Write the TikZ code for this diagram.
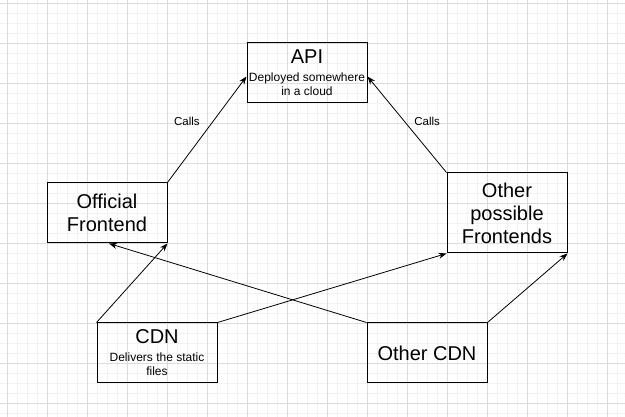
\documentclass[tikz,border=0pt]{standalone}
\usepackage{fontspec}
\setmainfont{Liberation Sans}
\usetikzlibrary{arrows.meta}
\newcommand\subtxt[1]{{\fontsize{12}{14}\selectfont #1}}
\begin{document}
\begin{tikzpicture}[x=1pt,y=-1pt,
  box/.style={draw, line width=1pt, minimum width=120pt, minimum height=60pt, inner sep=0pt, align=center, font=\fontsize{20}{23}\selectfont},
  conn/.style={line width=0.8pt, -{Stealth[length=8pt,width=6pt]}},
  lbl/.style={font=\fontsize{11.5}{13}\selectfont, inner sep=0pt},
  minorgrid/.style={draw=black!5, line width=0.8pt},
  majorgrid/.style={draw=black!14, line width=0.8pt}]
\fill[white] (0,0) rectangle (625,417);
\useasboundingbox (0,0) rectangle (625,417);
\foreach \x in {7,17,...,627} \draw[minorgrid] (\x,0) -- (\x,417);
\foreach \y in {3,13,...,413} \draw[minorgrid] (0,\y) -- (625,\y);
\foreach \x in {7,47,...,607} \draw[majorgrid] (\x,0) -- (\x,417);
\foreach \y in {3,43,...,403} \draw[majorgrid] (0,\y) -- (625,\y);

\node[box] (api) at (307,73) {API\\[-5pt]\subtxt{Deployed somewhere}\\[-9pt]\subtxt{in a cloud}};
\node[box] (off) at (107,213) {Official\\Frontend};
\node[box, minimum height=80pt] (other) at (507,213) {Other\\possible\\Frontends};
\node[box] (cdn) at (157,353) {CDN\\[-5pt]\subtxt{Delivers the static}\\[-9pt]\subtxt{files}};
\node[box] (ocdn) at (427,353) {Other CDN};

\draw[conn] (off.north east) -- node[lbl, pos=0.575, xshift=-26pt] {Calls} ([yshift=-3.5pt]api.west);
\draw[conn] (other.north west) -- node[lbl, pos=0.53, xshift=22.5pt] {Calls} ([yshift=-3.5pt]api.east);
\draw[conn] (cdn.north west) -- (off.south east);
\draw[conn] (cdn.north east) -- (other.south west);
\draw[conn] (ocdn.north west) -- ([xshift=2pt]off.south);
\draw[conn] (ocdn.north east) -- (other.south east);
\end{tikzpicture}
\end{document}
